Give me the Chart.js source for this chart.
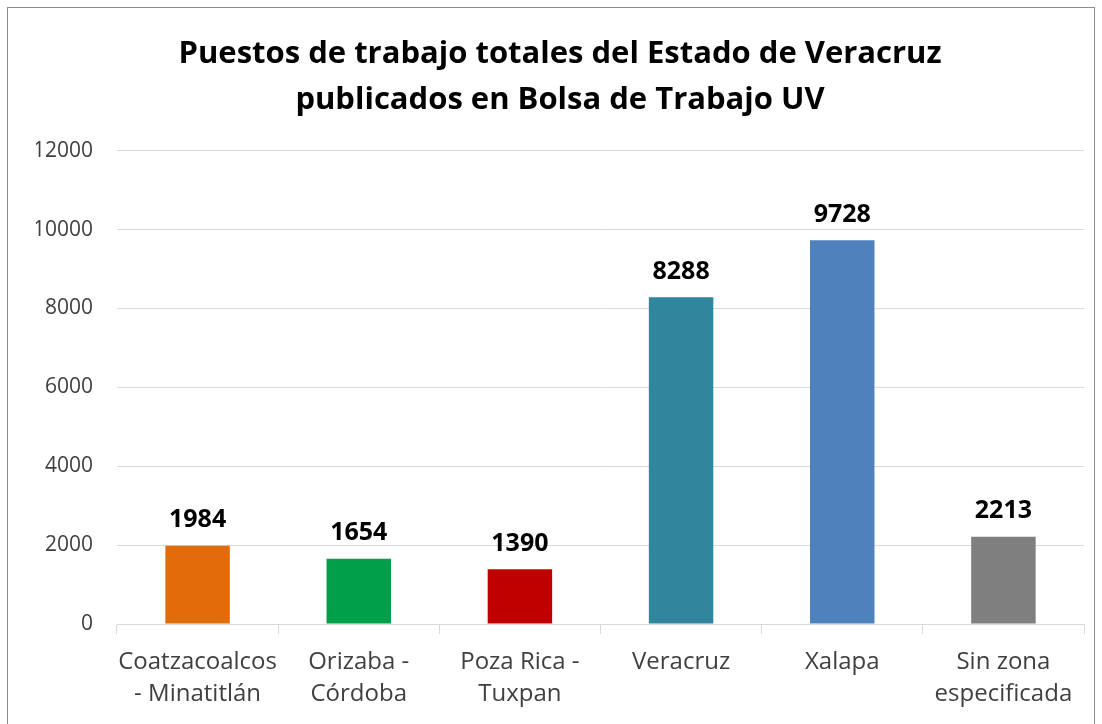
<!DOCTYPE html>
<html lang="es">
<head>
    <meta charset="UTF-8">
    <title>Puestos de trabajo totales del Estado de Veracruz</title>
    <script src="https://cdn.jsdelivr.net/npm/chart.js"></script>
    <style>
        body { margin: 0; background: #fff; }
        #wrap { width: 1102px; height: 724px; }
    </style>
</head>
<body>
<div id="wrap"><canvas id="puestosChart" width="1102" height="724"></canvas></div>
<script>
    const zonas = [
        ['Coatzacoalcos', '- Minatitlán'],
        ['Orizaba -', 'Córdoba'],
        ['Poza Rica -', 'Tuxpan'],
        'Veracruz',
        'Xalapa',
        ['Sin zona', 'especificada']
    ];
    const puestos = [1984, 1654, 1390, 8288, 9728, 2213];
    const colores = ['#E36C0A', '#00A04A', '#C00000', '#31859C', '#4F81BD', '#7F7F7F'];
    const tituloLineas = ['Puestos de trabajo totales del Estado de Veracruz', 'publicados en Bolsa de Trabajo UV'];

    const fuente = '"Open Sans", "Liberation Sans", sans-serif';

    // fondo blanco y marco gris del gráfico
    const marco = {
        id: 'marco',
        beforeDraw(chart) {
            const c = chart.ctx;
            c.save();
            c.fillStyle = '#fff';
            c.fillRect(0, 0, chart.width, chart.height);
            c.strokeStyle = '#8c8c8c';
            c.lineWidth = 1;
            c.strokeRect(7.5, 7.5, 1087, 730);
            c.restore();
        }
    };

    // etiquetas de valor encima de cada barra
    const etiquetas = {
        id: 'etiquetas',
        afterDatasetsDraw(chart) {
            const c = chart.ctx;
            const meta = chart.getDatasetMeta(0);
            c.save();
            c.font = 'bold 25px ' + fuente;
            c.fillStyle = '#000';
            c.textAlign = 'center';
            c.textBaseline = 'bottom';
            meta.data.forEach((bar, i) => {
                c.fillText(puestos[i], bar.x, bar.y - 13);
            });
            c.restore();
        }
    };

    new Chart(document.getElementById('puestosChart'), {
        type: 'bar',
        data: {
            labels: zonas,
            datasets: [{
                data: puestos,
                backgroundColor: colores,
                borderWidth: 0,
                categoryPercentage: 1,
                barPercentage: 0.4
            }]
        },
        options: {
            responsive: false,
            animation: false,
            layout: { padding: { left: 36, right: 18, top: 31, bottom: 0 } },
            plugins: {
                legend: { display: false },
                tooltip: { enabled: false },
                title: {
                    display: true,
                    text: tituloLineas,
                    color: '#000',
                    font: { family: fuente, size: 31, weight: 'bold', lineHeight: 1.48 },
                    padding: { top: 0, bottom: 28 }
                }
            },
            scales: {
                x: {
                    grid: { offset: true, drawOnChartArea: false, color: '#d9d9d9', tickLength: 10 },
                    border: { color: '#d9d9d9' },
                    ticks: {
                        color: '#404040',
                        font: { family: fuente, size: 24, lineHeight: 1.33 },
                        padding: 12,
                        maxRotation: 0,
                        autoSkip: false
                    },
                    afterFit(scale) { scale.height = 100; }
                },
                y: {
                    min: 0,
                    max: 12000,
                    ticks: {
                        stepSize: 2000,
                        color: '#404040',
                        font: { family: fuente, size: 21 },
                        padding: 24,
                        callback: v => String(v)
                    },
                    grid: { color: '#d9d9d9', drawTicks: false },
                    border: { display: false },
                    afterFit(scale) { scale.width = 81; }
                }
            }
        },
        plugins: [marco, etiquetas]
    });
</script>
</body>
</html>
